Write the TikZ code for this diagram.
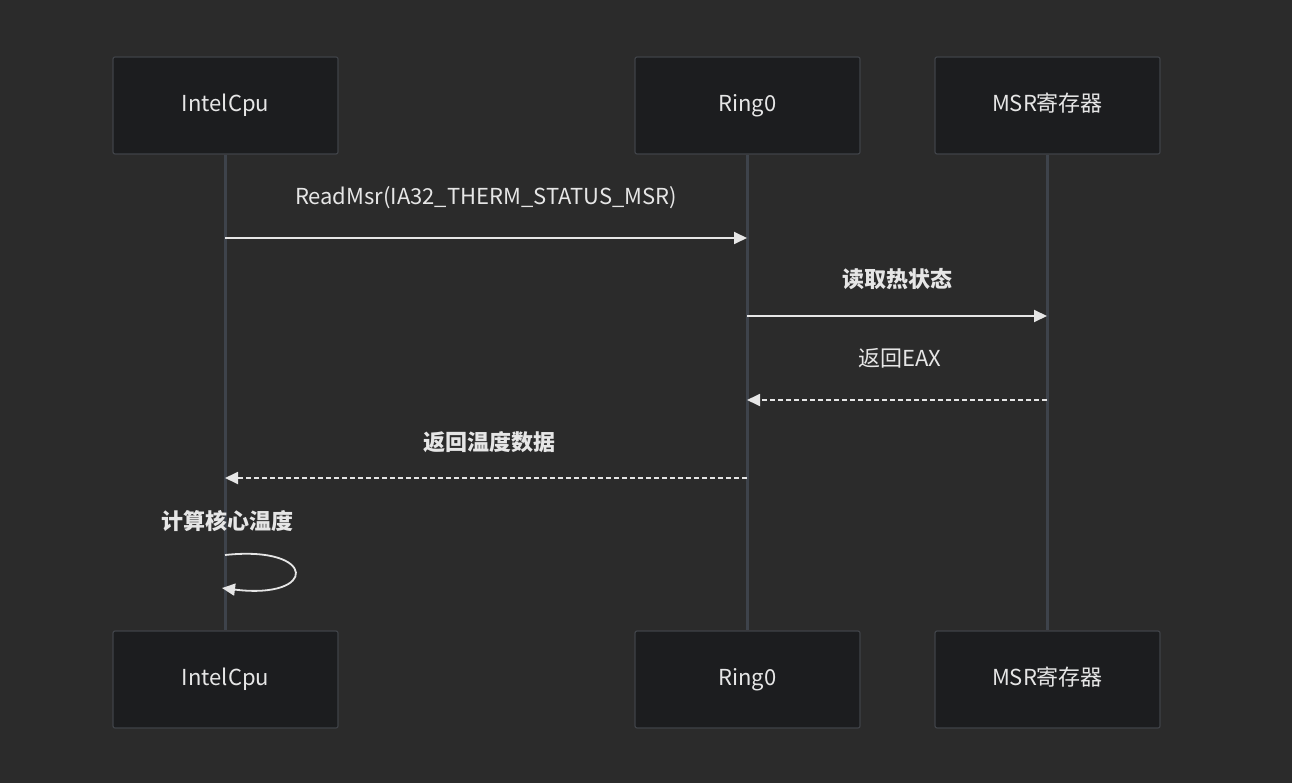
\documentclass[tikz,border=0pt]{standalone}
\usepackage{fontspec}
\setmainfont{Noto Sans CJK SC}
\usetikzlibrary{arrows.meta}
\definecolor{bg}{HTML}{2B2B2B}
\definecolor{boxf}{HTML}{1C1D1F}
\definecolor{boxd}{HTML}{3F4247}
\definecolor{life}{HTML}{3E434B}
\definecolor{txt}{HTML}{E6E6E6}
\begin{document}
\begin{tikzpicture}[x=1pt,y=-1pt,
  actor/.style={draw=boxd,line width=1.2pt,fill=boxf,rounded corners=2pt,minimum width=225pt,minimum height=97pt,text=txt,font=\fontsize{22}{26}\selectfont,inner sep=0,text height=16pt,text depth=4pt},
  lbl/.style={text=txt,font=\fontsize{22}{26}\selectfont,text height=16pt,text depth=4pt},
  msg/.style={draw=txt,line width=1.8pt,-{Triangle[length=13pt,width=12pt]}},
  ret/.style={msg,dash pattern=on 5pt off 3pt}]
\fill[bg] (0,0) rectangle (1292,783);
\useasboundingbox (0,0) rectangle (1292,783);
\node[actor] (a1) at (225.5,105.5) {IntelCpu};
\node[actor] (b1) at (747.5,105.5) {Ring0};
\node[actor] (c1) at (1047.5,105.5) {MSR寄存器};
\node[actor] (a2) at (225.5,679.5) {IntelCpu};
\node[actor] (b2) at (747.5,679.5) {Ring0};
\node[actor] (c2) at (1047.5,679.5) {MSR寄存器};
\foreach \p in {a,b,c} \draw[life,line width=2.2pt] (\p1.south) -- (\p2.north);
\coordinate (m1s) at (225,238); \coordinate (m1e) at (747,238);
\coordinate (m2s) at (747,316); \coordinate (m2e) at (1047,316);
\coordinate (m3s) at (1047,400); \coordinate (m3e) at (747,400);
\coordinate (m4s) at (747,478); \coordinate (m4e) at (225,478);
\draw[msg] (m1s) -- (m1e);
\draw[msg] (m2s) -- (m2e);
\draw[ret] (m3s) -- (m3e);
\draw[ret] (m4s) -- (m4e);
\node[lbl] (l1) at (486,199) {ReadMsr(IA32\_THERM\_STATUS\_MSR)};
\node[lbl] (l2) at (897,282) {\bfseries 读取热状态};
\node[lbl] (l3) at (900,360) {返回EAX};
\node[lbl] (l4) at (489,444) {\bfseries 返回温度数据};
\node[lbl] (l5) at (227,523) {\bfseries 计算核心温度};
\coordinate (s1) at (225,555); \coordinate (s2) at (222,588);
\draw[msg] (s1) .. controls (318,545) and (318,600) .. (s2);
\end{tikzpicture}
\end{document}
